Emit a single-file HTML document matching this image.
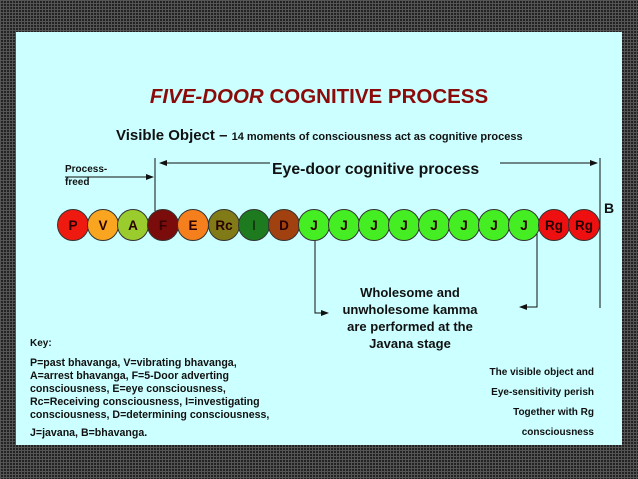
<!DOCTYPE html>
<html><head><style>
body{margin:0;width:638px;height:479px;background:#222;background-image:linear-gradient(#555 1px,transparent 1px),linear-gradient(90deg,#555 1px,transparent 1px);background-size:3px 3px;position:relative;overflow:hidden;font-family:"Liberation Sans",sans-serif;font-weight:bold;color:#111}
#p{position:absolute;left:16px;top:32px;width:606px;height:413px;background:#ccffff}
.a{position:absolute;white-space:nowrap}
</style></head><body>
<div id="p"></div>
<div class="a" style="left:0;width:638px;top:85px;text-align:center;font-size:20.5px;color:#8b0a0a">
<i>FIVE-DOOR</i> COGNITIVE PROCESS</div>
<div class="a" style="left:116px;top:127px;font-size:15px">Visible Object – <span style="font-size:11px">14 moments of consciousness act as cognitive process</span></div>
<div class="a" style="left:272px;top:161px;font-size:15.8px">Eye-door cognitive process</div>
<div class="a" style="left:65px;top:163px;font-size:10px;line-height:13px">Process-<br>freed</div>
<div class="a" style="left:604px;top:200px;font-size:14px">B</div>
<svg class="a" style="left:0;top:0" width="638" height="479">
<defs><marker id="m" markerWidth="8" markerHeight="6" refX="7" refY="3" orient="auto"><path d="M0,0L8,3L0,6z" fill="#111"/></marker></defs>
<g stroke="#111" stroke-width="1" fill="none">
<line x1="155" y1="158" x2="155" y2="211"/>
<line x1="600" y1="158" x2="600" y2="308"/>
<line x1="270" y1="163" x2="160" y2="163" marker-end="url(#m)"/>
<line x1="500" y1="163" x2="597" y2="163" marker-end="url(#m)"/>
<line x1="65" y1="177" x2="153" y2="177" marker-end="url(#m)"/>
<polyline points="315,232 315,313 328,313" marker-end="url(#m)"/>
<polyline points="537,232 537,307 520,307" marker-end="url(#m)"/>
</g>
<g font-family="Liberation Sans,sans-serif" font-weight="bold" font-size="13.5" text-anchor="middle">
<g stroke="#333" stroke-width="1">
<circle cx="73" cy="225" r="15.5" fill="#ee1a10"/>
<circle cx="103" cy="225" r="15.5" fill="#f9a520"/>
<circle cx="133" cy="225" r="15.5" fill="#9bcc2e"/>
<circle cx="163" cy="225" r="15.5" fill="#7a0c0c"/>
<circle cx="193" cy="225" r="15.5" fill="#f57f1c"/>
<circle cx="224" cy="225" r="15.5" fill="#807a17"/>
<circle cx="254" cy="225" r="15.5" fill="#1e7a1e"/>
<circle cx="284" cy="225" r="15.5" fill="#a0410f"/>
<circle cx="314" cy="225" r="15.5" fill="#44ee22"/>
<circle cx="344" cy="225" r="15.5" fill="#44ee22"/>
<circle cx="374" cy="225" r="15.5" fill="#44ee22"/>
<circle cx="404" cy="225" r="15.5" fill="#44ee22"/>
<circle cx="434" cy="225" r="15.5" fill="#44ee22"/>
<circle cx="464" cy="225" r="15.5" fill="#44ee22"/>
<circle cx="494" cy="225" r="15.5" fill="#44ee22"/>
<circle cx="524" cy="225" r="15.5" fill="#44ee22"/>
<circle cx="554" cy="225" r="15.5" fill="#ee1010"/>
<circle cx="584" cy="225" r="15.5" fill="#ee1010"/>
</g>
<g fill="#2a0000">
<text x="73" y="230">P</text><text x="103" y="230">V</text><text x="133" y="230">A</text><text x="163" y="230" fill="#3a0000">F</text><text x="193" y="230">E</text><text x="224" y="230">Rc</text><text x="254" y="230" fill="#103a10">I</text><text x="284" y="230">D</text>
<text x="314" y="230">J</text><text x="344" y="230">J</text><text x="374" y="230">J</text><text x="404" y="230">J</text><text x="434" y="230">J</text><text x="464" y="230">J</text><text x="494" y="230">J</text><text x="524" y="230">J</text>
<text x="554" y="230">Rg</text><text x="584" y="230">Rg</text></g>
</g>
</svg>
<div class="a" style="left:330px;width:160px;top:284px;text-align:center;font-size:13px;line-height:17px">Wholesome and<br>unwholesome kamma<br>are performed at the<br>Javana stage</div>
<div class="a" style="left:440px;width:154px;top:363px;text-align:right;font-size:10px;line-height:20px">The visible object and<br>Eye-sensitivity perish<br>Together with Rg<br>consciousness</div>
<div class="a" style="left:30px;top:338px;font-size:10px">Key:</div>
<div class="a" style="left:30px;top:357px;font-size:10.6px;line-height:13px">P=past bhavanga, V=vibrating bhavanga,<br>A=arrest bhavanga, F=5-Door adverting<br>consciousness, E=eye consciousness,<br>Rc=Receiving consciousness, I=investigating<br>consciousness, D=determining consciousness,</div>
<div class="a" style="left:30px;top:427px;font-size:10.6px">J=javana, B=bhavanga.</div>
</body></html>
